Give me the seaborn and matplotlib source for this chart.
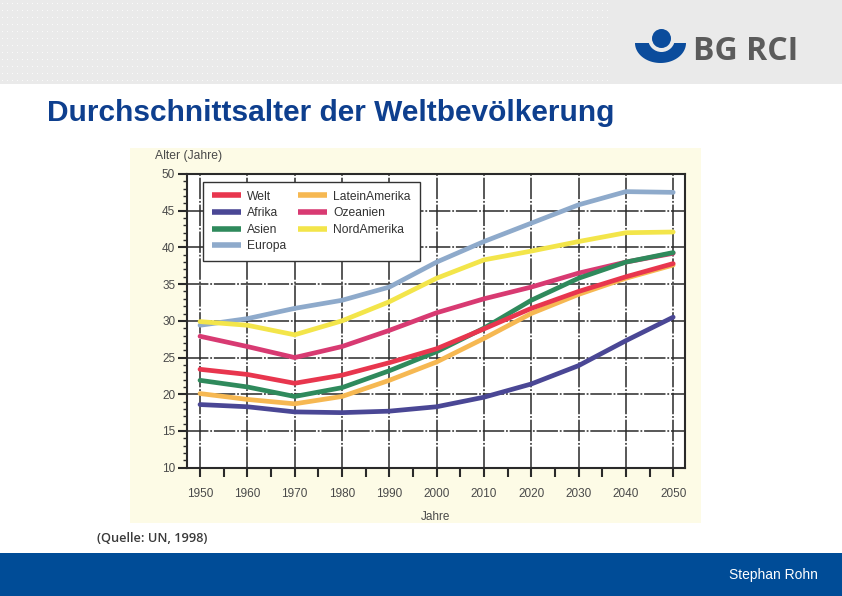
import numpy as np
import pandas as pd
import matplotlib
matplotlib.use("Agg")
import matplotlib.pyplot as plt
from matplotlib.patches import Rectangle, Circle, Polygon
from matplotlib.lines import Line2D
import seaborn as sns

# ---------------- data ----------------
years = [1950, 1960, 1970, 1980, 1990, 2000, 2010, 2020, 2030, 2040, 2050]
welt = [23.4, 22.7, 21.5, 22.6, 24.3, 26.2, 28.9, 31.7, 34.0, 36.0, 37.8]
afrika = [18.6, 18.3, 17.6, 17.5, 17.7, 18.3, 19.6, 21.4, 23.9, 27.3, 30.5]
asien = [21.9, 21.0, 19.7, 20.9, 23.2, 25.8, 29.0, 32.8, 35.8, 38.0, 39.3]
europa = [29.4, 30.3, 31.7, 32.8, 34.6, 38.0, 40.8, 43.3, 45.8, 47.6, 47.5]
lateinamerika = [20.1, 19.3, 18.7, 19.7, 21.9, 24.4, 27.6, 31.0, 33.6, 35.8, 37.6]
ozeanien = [27.9, 26.5, 25.0, 26.5, 28.7, 31.1, 33.0, 34.6, 36.5, 38.0, 39.2]
nordamerika = [29.9, 29.4, 28.1, 30.0, 32.6, 35.8, 38.3, 39.5, 40.8, 42.0, 42.1]

series = {
    "Welt": welt, "Afrika": afrika, "Asien": asien, "Europa": europa,
    "LateinAmerika": lateinamerika, "Ozeanien": ozeanien, "NordAmerika": nordamerika,
}
legend_labels = ["Welt", "Afrika", "Asien", "Europa", "LateinAmerika", "Ozeanien", "NordAmerika"]
colors = {
    "Welt": "#e8364e", "Afrika": "#4a4795", "Asien": "#2f8a5c", "Europa": "#8eaacb",
    "LateinAmerika": "#f6b852", "Ozeanien": "#d83a72", "NordAmerika": "#f3e54a",
}
draw_order = ["Europa", "NordAmerika", "LateinAmerika", "Ozeanien", "Asien", "Welt", "Afrika"]
y_ticks = [10, 15, 20, 25, 30, 35, 40, 45, 50]
x_ticks = [1950, 1960, 1970, 1980, 1990, 2000, 2010, 2020, 2030, 2040, 2050]

df = pd.DataFrame([
    {"Jahr": y, "Alter": v, "Region": name}
    for name in draw_order for y, v in zip(years, series[name])
])

# ---------------- figure ----------------
W, H = 842, 596
fig = plt.figure(figsize=(W / 100, H / 100), dpi=100)
fig.patch.set_facecolor("white")

bg = fig.add_axes([0, 0, 1, 1], zorder=-10)
bg.set_xlim(0, W)
bg.set_ylim(H, 0)
bg.axis("off")

# header band with dot pattern
band_h = 84
arr = np.full((band_h, W, 3), 234, dtype=np.uint8)
yy, xx = np.mgrid[0:band_h, 0:W]
dots = (xx % 5 == 2) & (yy % 7 == 3) & (xx < 610)
arr[dots] = 250
bg.imshow(arr, extent=[0, W, band_h, 0], interpolation="nearest", aspect="auto", zorder=0)

# logo
blue_logo = "#0b4c9c"
t = np.linspace(0, np.pi, 60)
bowl = np.column_stack([660.5 + 25.5 * np.cos(t), 43 + 20 * np.sin(t)])
bg.add_patch(Polygon(bowl, closed=True, facecolor=blue_logo, edgecolor="none", zorder=2))
bg.add_patch(Circle((661.5, 38.5), 13.5, facecolor="#eaeaea", edgecolor="none", zorder=3))
bg.add_patch(Circle((661.5, 38.5), 9.5, facecolor=blue_logo, edgecolor="none", zorder=4))
bg.text(693, 51, "BG RCI", fontsize=23, fontweight="bold", family="Open Sans",
        color="#5b5b5b", ha="left", va="center", zorder=5)

# title
bg.text(47, 113, "Durchschnittsalter der Weltbevölkerung", fontsize=21.5, fontweight="bold",
        family="Liberation Sans", color="#0e3f8e", ha="left", va="center")

# beige chart image background
bg.add_patch(Rectangle((130, 148), 571, 375, facecolor="#fdfbe6", edgecolor="none", zorder=1))

# source
bg.text(97, 539, "(Quelle: UN, 1998)", fontsize=9.2, fontweight="semibold", family="Open Sans",
        color="#3a3a3a", ha="left", va="center")

# footer
bg.add_patch(Rectangle((0, 553), W, H - 553, facecolor="#004c97", edgecolor="none", zorder=1))
bg.text(818, 575, "Stephan Rohn", fontsize=10, family="Liberation Sans", color="white",
        ha="right", va="center", zorder=2)

# axis captions
bg.text(155, 156, "Alter (Jahre)", fontsize=8.7, family="Liberation Sans", color="#4a4a4a",
        ha="left", va="center", zorder=3)
bg.text(436, 517, "Jahre", fontsize=8.5, family="Liberation Sans", color="#4a4a4a",
        ha="center", va="center", zorder=3)

# ---------------- chart axes ----------------
left, right, top, bottom = 187, 685, 174, 467.7
ax = fig.add_axes([left / W, (H - bottom) / H, (right - left) / W, (bottom - top) / H])
ax.set_facecolor("white")

palette = {k: colors[k] for k in draw_order}
sns.lineplot(data=df, x="Jahr", y="Alter", hue="Region", hue_order=draw_order,
             palette=palette, linewidth=3.4, ax=ax, legend=False, sort=True)
for ln in ax.lines:
    ln.set_solid_capstyle("round")
    ln.set_solid_joinstyle("round")
    ln.set_zorder(3)

ax.set_xlim(1947.25, 2052.5)
ax.set_ylim(10, 50)
ax.set_xticks(list(range(1950, 2051, 5)))
ax.set_xticklabels([str(v) if v in x_ticks else "" for v in range(1950, 2051, 5)])
ax.set_yticks(y_ticks)
ax.set_yticks(list(range(10, 51)), minor=True)
ax.set_xlabel("")
ax.set_ylabel("")

grid_style = (0, (14, 1.2, 1.2, 1.2))
for xv in x_ticks:
    ax.axvline(xv, color="#2a2a2a", linewidth=1.1, linestyle=grid_style, zorder=1)
for yv in y_ticks[1:-1]:
    ax.axhline(yv, color="#2a2a2a", linewidth=1.1, linestyle=grid_style, zorder=1)

for s in ["top", "right", "left", "bottom"]:
    ax.spines[s].set_color("#2a2a2a")
    ax.spines[s].set_linewidth(1.5)

ax.tick_params(axis="x", direction="out", length=6.5, width=1.5, color="#2a2a2a",
               labelsize=8.5, labelcolor="#4a4a4a", pad=8)
ax.tick_params(axis="y", which="major", direction="out", length=6.5, width=1.5, color="#2a2a2a",
               labelsize=8.5, labelcolor="#4a4a4a", pad=2)
ax.tick_params(axis="y", which="minor", direction="out", length=3, width=1.0, color="#2a2a2a")
for lab in ax.get_xticklabels() + ax.get_yticklabels():
    lab.set_family("Liberation Sans")

handles = [Line2D([0], [0], color=colors[k], linewidth=4, solid_capstyle="butt") for k in legend_labels]
leg = ax.legend(handles, legend_labels, ncol=2, loc="upper left",
                bbox_to_anchor=((203 - left) / (right - left), 1 - (181.5 - top) / (bottom - top)),
                frameon=True, fancybox=False, framealpha=1, edgecolor="#333333",
                prop={"family": "Liberation Sans", "size": 8.7},
                handlelength=2.4, handletextpad=0.5, columnspacing=1.0,
                labelspacing=0.38, borderpad=0.75, borderaxespad=0)
leg.get_frame().set_linewidth(1.0)
for txt in leg.get_texts():
    txt.set_color("#333333")
leg.set_zorder(5)

fig.savefig("out.png", dpi=100)
